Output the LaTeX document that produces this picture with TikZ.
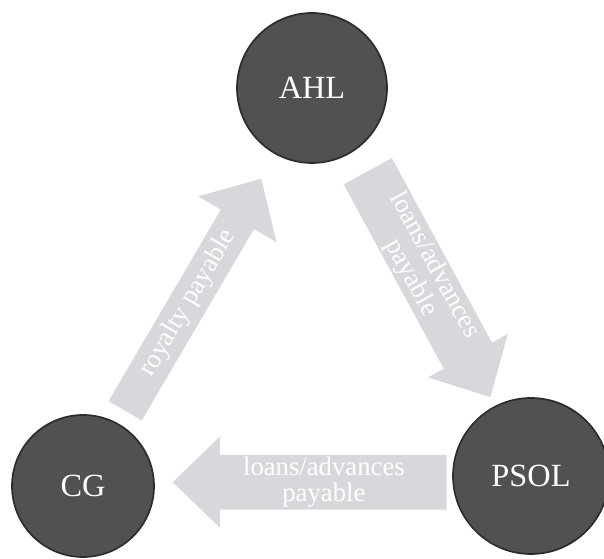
\documentclass[tikz,border=0pt]{standalone}
\usepackage{fontspec}
\setmainfont{Liberation Serif}
\usepackage{xcolor}
\usepackage{tikz}
\usetikzlibrary{positioning,calc,shapes.arrows}
\definecolor{entDark}{HTML}{4F524E}
\definecolor{entRim}{HTML}{2C2D2B}
\definecolor{flowGray}{HTML}{D7D8DC}

\begin{document}
\begin{tikzpicture}[
  entity/.style ={circle, draw=entRim, line width=1.2pt, fill=entDark, minimum size=3.75cm,
                  inner sep=0pt, font=\fontsize{23}{25}\selectfont, text=white},
  flow/.style   ={single arrow, fill=flowGray, draw=none, inner xsep=2pt, inner ysep=0pt,
                  minimum width=2.275cm, single arrow head extend=0.425cm,
                  single arrow tip angle=88, align=center, text=white,
                  font=\fontsize{19}{19}\selectfont, anchor=tail},
]
% canvas: 1 px of the scan = 0.025 cm
\useasboundingbox (0,0) rectangle (15.1,13.975);
% companies
\node[entity] (AHL)  at (7.8,11.775) {AHL};
\node[entity, minimum size=3.55cm] (CG)   at (2.075,1.825) {CG};
\node[entity, minimum size=3.9cm]  (PSOL) at (13.275,2.075) {PSOL};
% flows between them, placed by their tails
\node[flow, minimum height=6.425cm, rotate=-61.5] (loanA) at (9.19,9.7)
  {loans/advances\\payable};
\node[flow, minimum height=6.85cm, shape border rotate=180] (loanB) at (11.175,1.92)
  {loans/advances\\payable};
\node[flow, minimum height=6.725cm, rotate=59.6] (royalty) at (3.125,3.7)
  {royalty payable};
\end{tikzpicture}
\end{document}
